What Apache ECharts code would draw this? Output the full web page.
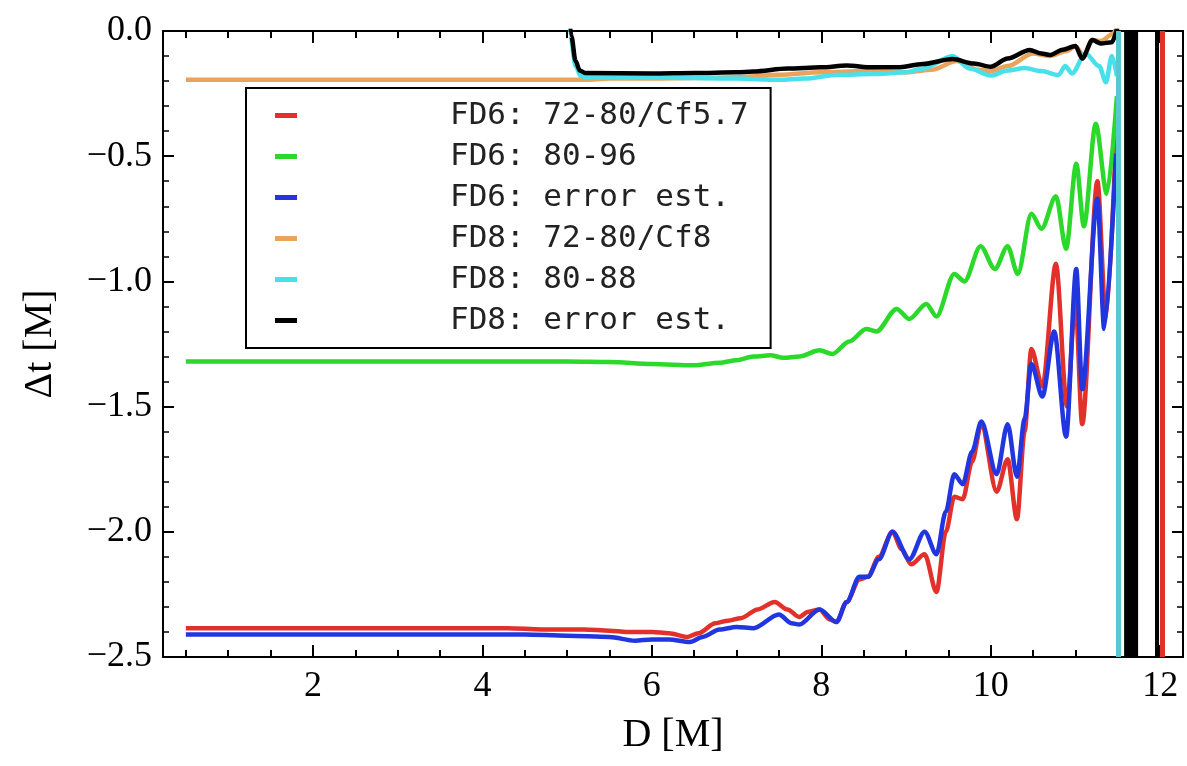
<!DOCTYPE html>
<html><head><meta charset="utf-8">
<script src="https://cdn.jsdelivr.net/npm/echarts@6/dist/echarts.min.js"></script>
<style>html,body{margin:0;padding:0;background:#fff}#c{width:1187px;height:766px}</style>
</head><body><div id="c"></div>
<script>
// ---- data ----
const seriesNames = ['FD6: 72-80/Cf5.7', 'FD6: 80-96', 'FD6: error est.', 'FD8: 72-80/Cf8', 'FD8: 80-88', 'FD8: error est.'];
const xMajorTicks = [2, 4, 6, 8, 10, 12];
const xMinorTicks = [0.5, 1, 1.5, 2.5, 3, 3.5, 4.5, 5, 5.5, 6.5, 7, 7.5, 8.5, 9, 9.5, 10.5, 11, 11.5];
const xRange = [0.23, 12.27];
const yRange = [-2.5, 0];
const yStep = [0.5];

const fd6_72_80 = [[0.5,-2.385],[4.3,-2.385],[4.7,-2.39],[5.2,-2.39],[5.5,-2.395],[5.7,-2.40],[6.0,-2.40],[6.2,-2.405],[6.42,-2.42],[6.55,-2.405],[6.75,-2.365],[6.9,-2.355],[7.05,-2.345],[7.25,-2.31],[7.45,-2.28],[7.6,-2.31],[7.74,-2.34],[7.84,-2.32],[7.98,-2.31],[8.1,-2.35],[8.18,-2.36],[8.3,-2.28],[8.45,-2.19],[8.55,-2.18],[8.68,-2.10],[8.84,-2.0],[8.95,-2.07],[9.06,-2.13],[9.22,-2.09],[9.36,-2.24],[9.47,-2.0],[9.57,-1.86],[9.67,-1.87],[9.78,-1.72],[9.89,-1.57],[10.07,-1.84],[10.2,-1.71],[10.31,-1.95],[10.4,-1.6],[10.48,-1.27],[10.61,-1.42],[10.77,-0.93],[10.9,-1.5],[11.0,-1.08],[11.08,-1.57],[11.26,-0.60],[11.36,-1.15],[11.48,-0.42]];
const fd6_80_96 = [[0.5,-1.32],[5.0,-1.32],[5.5,-1.322],[6.0,-1.33],[6.5,-1.335],[6.8,-1.325],[7.0,-1.315],[7.2,-1.30],[7.4,-1.295],[7.55,-1.305],[7.74,-1.30],[7.98,-1.275],[8.13,-1.29],[8.33,-1.24],[8.53,-1.19],[8.65,-1.20],[8.89,-1.11],[9.04,-1.15],[9.24,-1.09],[9.36,-1.14],[9.57,-0.97],[9.69,-1.0],[9.88,-0.86],[10.05,-0.95],[10.2,-0.86],[10.32,-0.97],[10.48,-0.73],[10.6,-0.79],[10.77,-0.66],[10.89,-0.87],[11.01,-0.53],[11.1,-0.78],[11.24,-0.37],[11.37,-0.65],[11.49,-0.26]];
const fd6_err = [[0.5,-2.41],[4.5,-2.41],[5.0,-2.415],[5.5,-2.42],[5.8,-2.435],[6.0,-2.43],[6.2,-2.43],[6.45,-2.44],[6.6,-2.42],[6.8,-2.39],[7.0,-2.38],[7.2,-2.385],[7.5,-2.33],[7.65,-2.365],[7.74,-2.37],[7.98,-2.31],[8.18,-2.36],[8.3,-2.28],[8.45,-2.18],[8.55,-2.18],[8.68,-2.11],[8.84,-2.0],[9.04,-2.11],[9.22,-2.0],[9.36,-2.09],[9.47,-1.92],[9.57,-1.77],[9.67,-1.81],[9.78,-1.68],[9.89,-1.56],[10.07,-1.77],[10.2,-1.57],[10.31,-1.78],[10.4,-1.55],[10.48,-1.33],[10.61,-1.46],[10.75,-1.20],[10.89,-1.62],[11.01,-0.95],[11.08,-1.43],[11.26,-0.67],[11.34,-1.19],[11.48,-0.49]];
const fd8_72_80 = [[0.5,-0.195],[5.2,-0.195],[5.5,-0.19],[6.0,-0.19],[6.5,-0.188],[7.0,-0.185],[7.5,-0.175],[8.0,-0.165],[8.5,-0.16],[9.0,-0.165],[9.3,-0.155],[9.6,-0.12],[9.85,-0.155],[10.0,-0.16],[10.2,-0.14],[10.5,-0.09],[10.7,-0.10],[10.9,-0.08],[11.0,-0.06],[11.1,-0.10],[11.2,-0.035],[11.3,-0.04],[11.45,-0.01],[11.5,0.03]];
const fd8_80_88 = [[5.0,0.2],[5.04,-0.02],[5.1,-0.14],[5.16,-0.18],[5.25,-0.185],[6.0,-0.186],[7.0,-0.19],[7.5,-0.195],[7.8,-0.19],[8.2,-0.175],[8.6,-0.172],[9.0,-0.165],[9.2,-0.15],[9.55,-0.10],[9.75,-0.15],[10.0,-0.178],[10.2,-0.158],[10.4,-0.148],[10.6,-0.16],[10.8,-0.176],[10.88,-0.14],[10.96,-0.17],[11.12,-0.09],[11.28,-0.14],[11.36,-0.205],[11.43,-0.10],[11.49,-0.18]];
const fd8_err = [[5.0,0.2],[5.05,-0.02],[5.1,-0.12],[5.15,-0.158],[5.22,-0.168],[6.0,-0.17],[6.5,-0.168],[7.0,-0.165],[7.2,-0.162],[7.6,-0.15],[8.0,-0.145],[8.3,-0.138],[8.6,-0.145],[8.9,-0.145],[9.2,-0.132],[9.55,-0.112],[9.8,-0.13],[10.0,-0.143],[10.2,-0.11],[10.46,-0.076],[10.6,-0.09],[10.7,-0.096],[10.85,-0.075],[11.0,-0.06],[11.08,-0.11],[11.2,-0.036],[11.3,-0.05],[11.43,-0.045],[11.5,0.02]];
// blow-up positions (curves leave the plot vertically)
const cyanBlowupX = [11.5];
const blackBandX = [11.575, 11.74];
const blackBlowupX = [11.955];
const redBlowupX = [12.03];

// ---- styles ----
const colors = ['#e2302a', '#2ad92a', '#2236e0', '#e9a35a', '#48e0ea', '#000000'];
const serif = 'Liberation Serif';

function vline(xs, color, w) {
  return { silent: true, symbol: ['none', 'none'], label: { show: false },
    lineStyle: { color: color, width: w, type: 'solid', opacity: 1 },
    emphasis: { disabled: true },
    data: xs.map(v => ({ xAxis: v })) };
}
function line(i, data, extra) {
  return Object.assign({
    type: 'line', name: seriesNames[i], data: data, symbol: 'none', showSymbol: false,
    smooth: 0.3, smoothMonotone: 'x', clip: true, xAxisIndex: 0, yAxisIndex: 0,
    lineStyle: { color: colors[i], width: 4.5 }, itemStyle: { color: colors[i] }
  }, extra || {});
}

const axisLineStyle = { show: true, onZero: false, lineStyle: { color: '#000', width: 2 } };
function xAx(pos, ticks, len, labels, named) {
  const a = {
    type: 'value', min: xRange[0], max: xRange[1], position: pos,
    axisLine: named !== null ? axisLineStyle : { show: false, onZero: false },
    axisTick: { show: true, inside: true, length: len, customValues: ticks, lineStyle: { color: '#000', width: 2 } },
    axisLabel: labels ? { show: true, customValues: ticks, margin: 12, fontSize: 36, fontFamily: serif, color: '#000' } : { show: false },
    splitLine: { show: false }
  };
  if (named) {
    a.name = 'D [M]'; a.nameLocation = 'middle'; a.nameGap = 58;
    a.nameTextStyle = { fontSize: 40, fontFamily: serif, color: '#000' };
  }
  return a;
}
function yAx(pos, labels) {
  const a = {
    type: 'value', min: yRange[0], max: yRange[1], interval: yStep[0], position: pos,
    axisLine: axisLineStyle,
    axisTick: { show: true, inside: true, length: 11, lineStyle: { color: '#000', width: 2 } },
    minorTick: { show: true, splitNumber: 5, length: 6, lineStyle: { color: '#000', width: 1.5 } },
    axisLabel: labels ? { show: true, margin: 11, fontSize: 36, fontFamily: serif, color: '#000',
      formatter: v => v === 0 ? '0.0' : '\u2212' + Math.abs(v).toFixed(1) } : { show: false },
    splitLine: { show: false }, minorSplitLine: { show: false }
  };
  if (labels) {
    a.name = '\u0394t [M]'; a.nameLocation = 'middle'; a.nameGap = 103; a.nameRotate = 90;
    a.nameTextStyle = { fontSize: 40, fontFamily: serif, color: '#000' };
  }
  return a;
}

const chart = echarts.init(document.getElementById('c'), null, { renderer: 'canvas' });
chart.setOption({
  animation: false,
  backgroundColor: '#fff',
  grid: { left: 163, right: 4, top: 31, bottom: 109, containLabel: false },
  xAxis: [
    xAx('bottom', xMajorTicks, 12, true, true),
    xAx('bottom', xMinorTicks, 7, false, null),
    xAx('top', xMajorTicks, 12, false, false),
    xAx('top', xMinorTicks, 7, false, null)
  ],
  yAxis: [ yAx('left', true), yAx('right', false) ],
  legend: {
    data: seriesNames, orient: 'vertical', left: 246, top: 88,
    icon: 'rect', itemWidth: 22, itemHeight: 5, itemGap: 10,
    padding: [12, 22, 12, 29], backgroundColor: '#fff', borderColor: '#000', borderWidth: 2,
    selectedMode: false,
    textStyle: { fontFamily: 'DejaVu Sans Mono', fontSize: 31, lineHeight: 31, color: '#222', padding: [0, 0, 0, 148] }
  },
  series: [
    line(0, fd6_72_80, { markLine: vline(redBlowupX, colors[0], 5) }),
    line(1, fd6_80_96),
    line(2, fd6_err),
    line(3, fd8_72_80),
    line(4, fd8_80_88, { markLine: vline(cyanBlowupX, '#55c9cf', 5) }),
    line(5, fd8_err, {
      markLine: vline(blackBlowupX, '#000', 4),
      markArea: { silent: true, itemStyle: { color: '#000', opacity: 1 }, label: { show: false },
        data: [[{ xAxis: blackBandX[0] }, { xAxis: blackBandX[1] }]] }
    })
  ]
});
</script></body></html>
